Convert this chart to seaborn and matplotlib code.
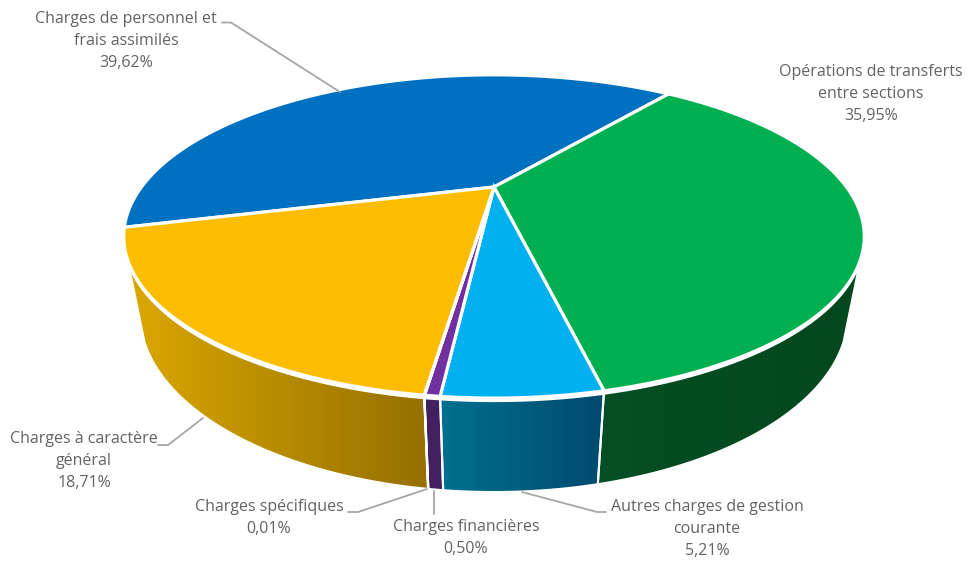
import numpy as np
import matplotlib
matplotlib.use("Agg")
import matplotlib.pyplot as plt
from matplotlib.colors import to_rgb
from matplotlib.patches import Polygon
import seaborn as sns

# data
names = ["Charges de personnel et\nfrais assimilés", "Opérations de transferts\nentre sections",
         "Autres charges de gestion\ncourante", "Charges financières",
         "Charges spécifiques", "Charges à caractère\ngénéral"]
values = [39.62, 35.95, 5.21, 0.50, 0.01, 18.71]
top_colors = ["#0070c0", "#00b050", "#00b0f0", "#7030a0", "#7030a0", "#fcbd00"]
wall_left = ["#0070c0", "#034f25", "#00708f", "#43205f", "#43205f", "#dba700"]
wall_right = ["#0070c0", "#04471f", "#004a6e", "#43205f", "#43205f", "#947000"]

# label centres and leader lines, in pixels
label_xy = [(126, 41), (871, 94), (707, 529), (466, 538), (269, 518), (84, 461)]
leaders = [[(222, 22.5), (231, 22.5), (340, 92)],
           [(606, 512), (597, 512), (522, 492)],
           [(434, 491), (434, 514)],
           [(348, 512), (358, 512), (427, 489)],
           [(158, 445), (168, 445), (203, 418)]]

# perspective of the disc
cx, cy = 494, 187
a, d, k = 352.5, 146.5, 0.306
depth, shrink = 78, 0.042
start_clockwise = 255.3
wall_from, wall_to = 205.5, 334.5

sns.set_theme(style="white")
plt.rcParams["font.family"] = ["Open Sans", "DejaVu Sans"]
palette = sns.color_palette(top_colors)


def project(theta, z=0.0):
    x, y = np.cos(np.radians(theta)), np.sin(np.radians(theta))
    w = 1 + k * y + shrink * z
    return np.column_stack([cx + a * x / w, cy - (d * y - depth * z) / w])


fig, ax = plt.subplots(figsize=(9.69, 5.65), dpi=100)
ax.set_position([0, 0, 1, 1])

# the pie gives the angles, the wedges are then redrawn in perspective
wedges, _ = ax.pie(values, startangle=90 - start_clockwise, counterclock=False)
angles = [(w.theta1, w.theta2) for w in wedges]
for w in wedges:
    w.remove()

for i, (t1, t2) in enumerate(angles):
    shift = 360 * np.floor(((t1 + t2) / 2) / 360)
    t1, t2 = t1 - shift, t2 - shift

    # side wall
    s1, s2 = max(t1, wall_from), min(t2, wall_to)
    if s2 > s1:
        th = np.linspace(s1, s2, 80)
        verts = np.vstack([project(th, 0.03), project(th[::-1], 1.0)])
        wall = Polygon(verts, closed=True, fc="none", ec="white", lw=1.5, zorder=2)
        ax.add_patch(wall)
        grad = np.linspace(to_rgb(wall_left[i]), to_rgb(wall_right[i]), 256)[None, :, :]
        # the light falls from the left: gradient goes left to right on the wall
        im = ax.imshow(grad, extent=(verts[:, 0].min(), verts[:, 0].max(), 0, 565),
                       aspect="auto", zorder=1, interpolation="bilinear")
        im.set_clip_path(wall)

    # top face
    th = np.linspace(t1, t2, max(int(t2 - t1) * 3, 3))
    verts = np.vstack([[[cx, cy]], project(th)])
    ax.add_patch(Polygon(verts, closed=True, fc=palette[i], ec="white", lw=2.3,
                         joinstyle="miter", zorder=3))

for pts in leaders:
    xs, ys = zip(*pts)
    ax.plot(xs, ys, color="#a6a6a6", lw=1.3, zorder=4)

for name, val, (x, y) in zip(names, values, label_xy):
    pct = f"{val:.2f}%".replace(".", ",")
    ax.text(x, y, f"{name}\n{pct}", ha="center", va="center", fontsize=11.5,
            color="#636363", linespacing=1.54, zorder=5)

ax.set_xlim(0, 969)
ax.set_ylim(565, 0)
ax.set_aspect("auto")
ax.axis("off")
fig.savefig("out.png", dpi=100, facecolor="white")
